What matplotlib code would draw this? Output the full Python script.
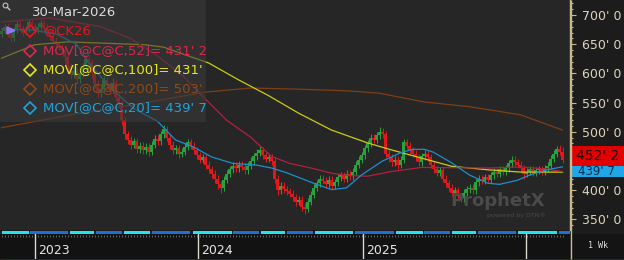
import numpy as np
import matplotlib.pyplot as plt
from matplotlib.patches import Rectangle, Polygon, Circle
from matplotlib.ticker import MultipleLocator, FixedLocator

W, H = 624, 260

# weekly candles (cents/bu)
opens = [668,672,680,668,660,675,684,678,670,676,
         688,682,674,680,686,678,670,664,656,650,
         646,640,628,612,598,604,590,600,612,624,
         618,600,582,566,574,588,580,572,584,560,
         548,520,496,486,478,484,470,476,468,474,
         466,478,488,484,496,504,490,478,468,472,
         462,466,474,482,476,468,460,452,456,444,
         436,428,420,410,404,418,428,436,442,438,
         444,440,434,442,450,458,464,468,460,454,
         456,450,420,400,408,402,398,394,388,380,
         384,372,368,380,392,404,412,420,416,410,
         418,408,414,422,426,420,428,424,432,444,
         452,460,472,480,490,486,494,500,496,462,
         456,448,452,444,452,482,476,468,462,456,
         448,458,462,456,444,436,430,434,420,412,
         404,396,400,390,386,396,402,404,400,414,
         420,416,422,418,426,432,428,436,432,438,
         446,452,448,444,438,428,432,436,430,434,
         436,432,438,442,454,462,470,466]
closes = [672,680,668,660,675,684,678,670,676,688,
          682,674,680,686,678,670,664,656,650,646,
          640,628,612,598,604,590,600,612,624,618,
          600,582,566,574,588,580,572,584,560,548,
          520,496,486,478,484,470,476,468,474,466,
          478,488,484,496,504,490,478,468,472,462,
          466,474,482,476,468,460,452,456,444,436,
          428,420,410,404,418,428,436,442,438,444,
          440,434,442,450,458,464,468,460,454,456,
          450,420,400,408,402,398,394,388,380,384,
          372,368,380,392,404,412,420,416,410,418,
          408,414,422,426,420,428,424,432,444,452,
          460,472,480,490,486,494,500,496,462,456,
          448,452,444,452,482,476,468,462,456,448,
          458,462,456,444,436,430,434,420,412,404,
          396,400,390,386,396,402,404,400,414,420,
          416,422,418,426,432,428,436,432,438,446,
          452,448,444,438,428,432,436,430,434,436,
          432,438,442,454,462,470,466,452]
highs = [678,685,686,674,680,690,689,683,681,694,
         694,687,686,692,691,684,676,669,662,656,
         652,646,634,618,612,610,606,618,632,630,
         624,606,588,582,596,594,586,592,590,566,
         554,526,502,492,490,490,482,482,480,480,
         484,494,494,502,512,510,496,484,478,478,
         472,480,488,488,482,474,466,462,462,450,
         442,434,426,416,424,434,442,448,448,450,
         450,446,448,456,464,470,476,474,466,462,
         462,456,426,414,414,408,404,400,394,390,
         390,378,386,398,410,418,426,426,422,424,
         424,420,428,432,432,434,434,438,450,458,
         466,478,486,496,496,500,508,506,502,468,
         462,458,458,458,488,488,482,474,468,462,
         464,468,468,462,450,442,440,440,426,418,
         410,406,406,396,402,408,410,410,420,426,
         426,428,428,432,438,438,442,442,444,452,
         458,458,454,450,444,438,442,442,440,442,
         442,444,448,460,468,476,478,474]
lows = [663,667,662,654,655,670,672,664,665,671,
        676,668,669,675,672,664,658,650,644,640,
        634,621,604,590,592,582,584,594,606,610,
        592,575,558,560,568,573,565,566,552,540,
        512,488,479,471,472,463,464,462,462,459,
        460,472,478,478,490,484,471,462,462,455,
        456,460,468,470,462,454,446,446,437,429,
        421,413,402,396,398,412,422,430,432,432,
        434,428,428,436,444,452,458,454,448,448,
        444,412,392,394,396,392,388,381,373,374,
        365,360,362,374,386,398,406,410,404,404,
        402,402,408,416,414,414,418,418,426,438,
        446,454,466,474,480,480,488,490,455,449,
        442,442,437,438,446,470,462,456,450,442,
        442,452,450,438,430,424,424,414,406,398,
        390,390,384,380,380,390,396,394,394,408,
        410,410,412,412,420,422,422,426,426,432,
        440,442,438,432,420,422,426,424,424,428,
        426,426,432,436,448,456,460,446]

# moving averages (bar index, value)
ma20_idx = [0, 10, 18, 25, 29, 37, 44, 52, 58, 64, 70, 77, 85, 90, 95, 104, 110, 115,
            120, 127, 133, 137, 141, 144, 150, 156, 162, 166, 172, 176, 182, 187]
ma20_val = [676, 674, 668, 650, 618, 572, 540, 518, 486, 474, 457, 446, 443, 438, 430, 412, 401, 404,
            426, 450, 464, 470, 470, 465, 447, 426, 412, 410, 417, 426, 435, 440]
ma52_idx = [0, 16, 33, 43, 52, 60, 68, 75, 83, 90, 96, 104, 110, 116, 122, 130, 140, 163, 173, 182, 187]
ma52_val = [688, 695, 680, 660, 630, 598, 556, 520, 491, 458, 446, 437, 429, 425, 424, 432, 439, 438, 440, 436, 432]
ma100_idx = [0, 11, 22, 33, 48, 54, 60, 69, 79, 89, 99, 110, 122, 130, 140, 150, 162, 173, 187]
ma100_val = [626, 649, 654, 652, 649, 645, 634, 618, 589, 562, 532, 503, 481, 469, 455, 441, 435, 431, 431]
ma200_idx = [0, 23, 46, 68, 83, 99, 116, 126, 141, 156, 173, 187]
ma200_val = [507, 529, 548, 568, 575, 573, 570, 566, 551, 543, 529, 503]

year_labels = ['2023', '2024', '2025', '']
year_idx = [11.2, 65.5, 120.5, 174.8]

legend_date = '30-Mar-2026'
legend_rows = ['@CK26', "MOV[@C@C,52]= 431' 2", "MOV[@C@C,100]= 431'",
               "MOV[@C@C,200]= 503'", "MOV[@C@C,20]= 439' 7"]
legend_colors = ['#e8141e', '#d8284f', '#e8e81a', '#8e4a1a', '#20a2dc']

price_ticks = [350, 400, 450, 500, 550, 600, 650, 700]
hidden_tick = 450  # its label sits under the last-price boxes
last_label = "452' 2"
ma20_label = "439' 7"

# cyan/blue strip under the chart (pixel spans)
band_segments = [(2, 29), (30, 68), (70, 94), (96, 122), (124, 150), (152, 190), (193, 232),
                 (233, 259), (261, 285), (287, 313), (315, 353), (355, 394), (396, 423),
                 (424, 450), (452, 476), (478, 516), (518, 557), (559, 570)]


def price_at(py):
    return 700 - (py - 15) / 0.584


fig = plt.figure(figsize=(W / 100, H / 100), dpi=100)
fig.patch.set_facecolor('#1c1c1c')

ax = fig.add_axes([0, 1 - 230 / H, 570 / W, 230 / H])
ax.set_facecolor('#262626')
ax.set_xlim(-0.5, 189.5)
ax.set_ylim(price_at(230), price_at(0))

o = np.array(opens, float)
c = np.array(closes, float)
x = np.arange(len(c))
cols = np.where(c >= o, '#25a33c', '#e3161b')
ax.vlines(x, lows, highs, colors=cols, lw=0.75, zorder=2)
body = np.maximum(np.abs(c - o), 1.6)
ax.bar(x, body, bottom=np.minimum(o, c), width=0.7, color=cols, lw=0, zorder=3)

ax.plot(ma200_idx, ma200_val, color='#7e3e14', lw=0.9, zorder=4)
ax.plot(ma100_idx, ma100_val, color='#cccc12', lw=0.9, zorder=4)
ax.plot(ma52_idx, ma52_val, color='#b3203f', lw=0.9, zorder=4)
ax.plot(ma20_idx, ma20_val, color='#1d8fcc', lw=0.9, zorder=4)

for s in ['top', 'left', 'bottom']:
    ax.spines[s].set_visible(False)
ax.spines['right'].set_color('#c8b890')
ax.spines['right'].set_linewidth(1)
ax.set_xticks([])
ax.yaxis.tick_right()
ax.yaxis.set_major_locator(FixedLocator(price_ticks))
ax.set_yticklabels(['' if v == hidden_tick else f"{v}' 0" for v in price_ticks])
ax.yaxis.set_minor_locator(MultipleLocator(10))
ax.tick_params(axis='y', which='major', length=4, width=0.8, color='#c8b890',
               labelcolor='#ddd4bc', labelsize=9, pad=5)
ax.tick_params(axis='y', which='minor', length=2, width=0.8, color='#c8b890')

# strip
band = fig.add_axes([0, 1 - 234 / H, 570 / W, 3.5 / H])
band.set_xlim(0, 570)
band.set_ylim(0, 1)
band.axis('off')
for k, (a, b) in enumerate(band_segments):
    band.add_patch(Rectangle((a, 0), b - a, 1, color='#1ee6f0' if k % 2 == 0 else '#1f6fd6', lw=0))

# time axis
tax = fig.add_axes([0, 1 - 259 / H, 570 / W, 25 / H])
tax.set_facecolor('#121212')
tax.set_xlim(-0.5, 189.5)
tax.set_ylim(25, 0)
for s in tax.spines.values():
    s.set_visible(False)
tax.set_xticks([])
tax.set_yticks([])
tax.vlines(x, 0.5, 3, color='#707070', lw=0.6)
for lbl, xi in zip(year_labels, year_idx):
    tax.axvline(xi, color='#d8d8d0', lw=1)
    tax.text(xi + 0.9, 16, lbl, color='#e6e6e6', fontsize=9, va='center', ha='left')

# overlay in pixel coordinates
ov = fig.add_axes([0, 0, 1, 1], zorder=10)
ov.set_xlim(0, W)
ov.set_ylim(H, 0)
ov.axis('off')
ov.patch.set_alpha(0)

ov.add_patch(Rectangle((0, 0), 206, 122, color='#3a3a3a', alpha=0.6, lw=0))
ov.text(32, 12, legend_date, color='#dcdcdc', fontsize=9.5, va='center')
row_y = [31, 50.5, 70, 89, 108]
for lbl, col, ry in zip(legend_rows, legend_colors, row_y):
    ov.plot(30, ry, marker='D', ms=6, mfc='none', mec=col, mew=1.2)
    ov.text(43, ry, lbl, color=col, fontsize=9.5, va='center')
ov.add_patch(Polygon([(7, 27), (15, 30.5), (7, 34)], color='#8c7cf4'))
ov.add_patch(Circle((5.5, 5.5), 2.4, fill=False, ec='#c0c0c0', lw=0.8))
ov.plot([7.3, 9.8], [7.3, 9.8], color='#c0c0c0', lw=1)

# watermark
ov.text(498, 201, 'ProphetX', ha='center', va='center', fontsize=13, fontweight='bold',
        color='#4a4a4a')
ov.text(546, 215, 'powered by DTN®', ha='right', va='center', fontsize=4.5, color='#4a4a4a')

# last price boxes (the red one sits on top of the blue one)
ov.add_patch(Rectangle((572, 163), 52, 14, color='#1ea6e6', lw=0))
ov.text(578, 171.5, ma20_label, color='#0a2a50', fontsize=8.5, va='center')
ov.add_patch(Rectangle((572, 146), 52, 20, color='#e00000', lw=0))
ov.text(576, 155.5, last_label, color='#200000', fontsize=10, va='center')

# right bottom box and frame lines
ov.add_patch(Rectangle((571, 234), 53, 25, color='#141414', lw=0))
ov.text(598, 246, '1 Wk', color='#e0e0e0', fontsize=6, family='DejaVu Sans Mono',
        ha='center', va='center')
ov.vlines(570.5, 0, 259, color='#c8b890', lw=1)
ov.hlines(259.5, 0, W, color='#2a8a34', lw=1)

fig.savefig('out.png', dpi=100, facecolor=fig.get_facecolor())
